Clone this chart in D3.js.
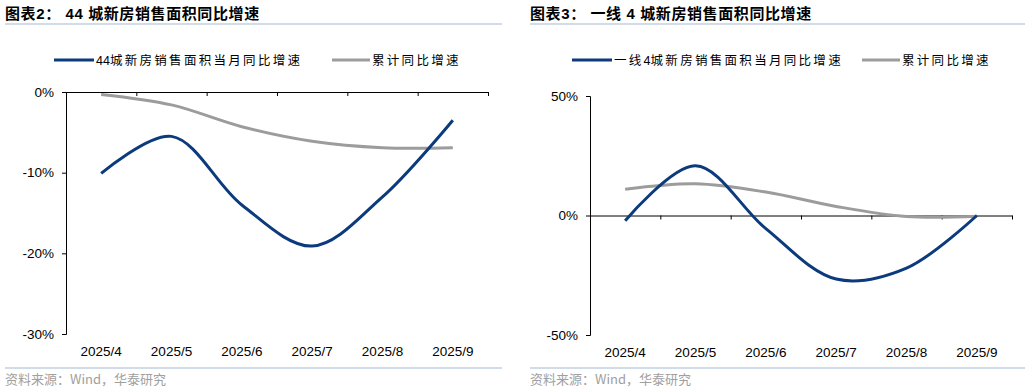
<!DOCTYPE html>
<html>
<head>
<meta charset="utf-8">
<script src="https://cdn.jsdelivr.net/npm/d3@7/dist/d3.min.js"></script>
<style>
  body { margin: 0; background: #fff; }
  text { font-family: "Liberation Sans", Arial, "Noto Sans CJK SC", sans-serif; }
</style>
</head>
<body>
<div id="chart"></div>
<script>
// categories shared by both panels
const months = ["2025/4", "2025/5", "2025/6", "2025/7", "2025/8", "2025/9"];

// panel 1: 44 cities
const city44Monthly = [-10.1, -5.5, -14.0, -19.1, -13.0, -3.5];
const city44Cumulative = [-0.3, -1.6, -4.3, -6.1, -6.9, -6.9];
const city44Ticks = [0, -10, -20, -30];

// panel 2: tier-1 4 cities
const tier1Monthly = [-2.2, 20.8, -5.5, -26.6, -22.0, 0];
const tier1Cumulative = [11.0, 13.3, 9.8, 3.8, -0.4, -0.3];
const tier1Ticks = [50, 0, -50];

const blue = "#0b3b7c";
const gray = "#9c9c9c";
const ruleColor = "#c3d1e2";

let svg = d3.select("#chart").append("svg").attr("width", 1031).attr("height", 392);

// legend text: CJK chars spaced out, digits kept tight
function spacedText(sel, str) {
  let parts = str.match(/(\d+|[^\d]+)/g);
  parts.forEach((p) => {
    sel.append("tspan")
      .style("letter-spacing", /\d/.test(p) ? "0px" : "2.3px")
      .style("font-family", /\d/.test(p) ? "\"Liberation Sans\", Arial" : "\"Noto Sans CJK SC\", sans-serif")
      .text(p);
  });
}

function drawPanel(cfg) {
  let g = svg.append("g");

  // title + top rule
  g.append("text")
    .attr("x", cfg.left0).attr("y", 19)
    .style("font-size", "15px").style("font-weight", "bold")
    .style("letter-spacing", "0.6px")
    .text(cfg.title);
  g.append("line")
    .attr("x1", cfg.left0).attr("x2", cfg.right0)
    .attr("y1", 24).attr("y2", 24)
    .attr("stroke", ruleColor).attr("stroke-width", 1.5);

  // bottom rule + source
  g.append("line")
    .attr("x1", cfg.left0).attr("x2", cfg.right0)
    .attr("y1", 368).attr("y2", 368)
    .attr("stroke", ruleColor).attr("stroke-width", 1.5);
  g.append("text")
    .attr("x", cfg.left0).attr("y", 384)
    .style("font-size", "13px").attr("fill", "#a0a0a0")
    .style("font-family", "\"Noto Sans CJK SC\", sans-serif")
    .text("资料来源：Wind，华泰研究");

  // scales
  let x = d3.scaleBand().domain(months).range([cfg.x0, cfg.x1]);
  let edges = d3.scaleLinear().domain([0, months.length]).range([cfg.x0, cfg.x1]);
  let y = d3.scaleLinear().domain(cfg.domain).range([cfg.yBottom, cfg.yTop]);
  let cx = (d) => x(d) + x.bandwidth() / 2;

  // y axis
  let yAxis = g.append("g")
    .attr("transform", "translate(" + cfg.x0 + ",0)")
    .call(d3.axisLeft(y).tickValues(cfg.ticks).tickSize(4).tickPadding(8).tickFormat((d) => d + "%"));
  yAxis.select(".domain").attr("stroke", "#000");
  yAxis.selectAll("text").style("font-size", "13.5px").attr("fill", "#000");

  // category axis at 0%
  let xAxis = g.append("g")
    .attr("transform", "translate(0," + y(0) + ")")
    .call(d3.axisBottom(edges).tickValues(d3.range(months.length + 1)).tickSize(4).tickSizeOuter(0).tickFormat(""));
  xAxis.select(".domain").attr("stroke", "#000");

  // category labels along the bottom
  let labels = g.append("g")
    .attr("transform", "translate(0," + (cfg.yBottom + 8) + ")")
    .call(d3.axisBottom(x).tickSize(0).tickPadding(4));
  labels.select(".domain").remove();
  labels.selectAll("text").style("font-size", "13.5px").attr("fill", "#000");

  // lines
  let line = d3.line()
    .x((d, i) => cx(months[i]))
    .y((d) => y(d))
    .curve(d3.curveCatmullRom.alpha(0.5));

  g.append("path").datum(cfg.cumulative)
    .attr("d", line).attr("fill", "none")
    .attr("stroke", gray).attr("stroke-width", 3);
  g.append("path").datum(cfg.monthly)
    .attr("d", line).attr("fill", "none")
    .attr("stroke", blue).attr("stroke-width", 3);

  // legend
  let leg = g.append("g").attr("transform", "translate(0,60)");
  leg.append("line").attr("x1", cfg.leg1).attr("x2", cfg.leg1 + 40)
    .attr("stroke", blue).attr("stroke-width", 3);
  leg.append("text").attr("x", cfg.leg1 + 42).attr("y", 4.5)
    .style("font-size", "12.5px")
    .call(spacedText, cfg.name1);
  leg.append("line").attr("x1", cfg.leg2).attr("x2", cfg.leg2 + 38)
    .attr("stroke", gray).attr("stroke-width", 3);
  leg.append("text").attr("x", cfg.leg2 + 40).attr("y", 4.5)
    .style("font-size", "12.5px")
    .call(spacedText, "累计同比增速");
}

drawPanel({
  title: "图表2：  44 城新房销售面积同比增速",
  left0: 5, right0: 502,
  x0: 66, x1: 488,
  yTop: 92, yBottom: 334,
  domain: [-30, 0],
  ticks: city44Ticks,
  monthly: city44Monthly,
  cumulative: city44Cumulative,
  name1: "44城新房销售面积当月同比增速",
  leg1: 54, leg2: 332
});

drawPanel({
  title: "图表3：  一线 4 城新房销售面积同比增速",
  left0: 530, right0: 1025,
  x0: 590, x1: 1012,
  yTop: 96, yBottom: 335,
  domain: [-50, 50],
  ticks: tier1Ticks,
  monthly: tier1Monthly,
  cumulative: tier1Cumulative,
  name1: "一线4城新房销售面积当月同比增速",
  leg1: 572, leg2: 862
});
</script>
</body>
</html>
